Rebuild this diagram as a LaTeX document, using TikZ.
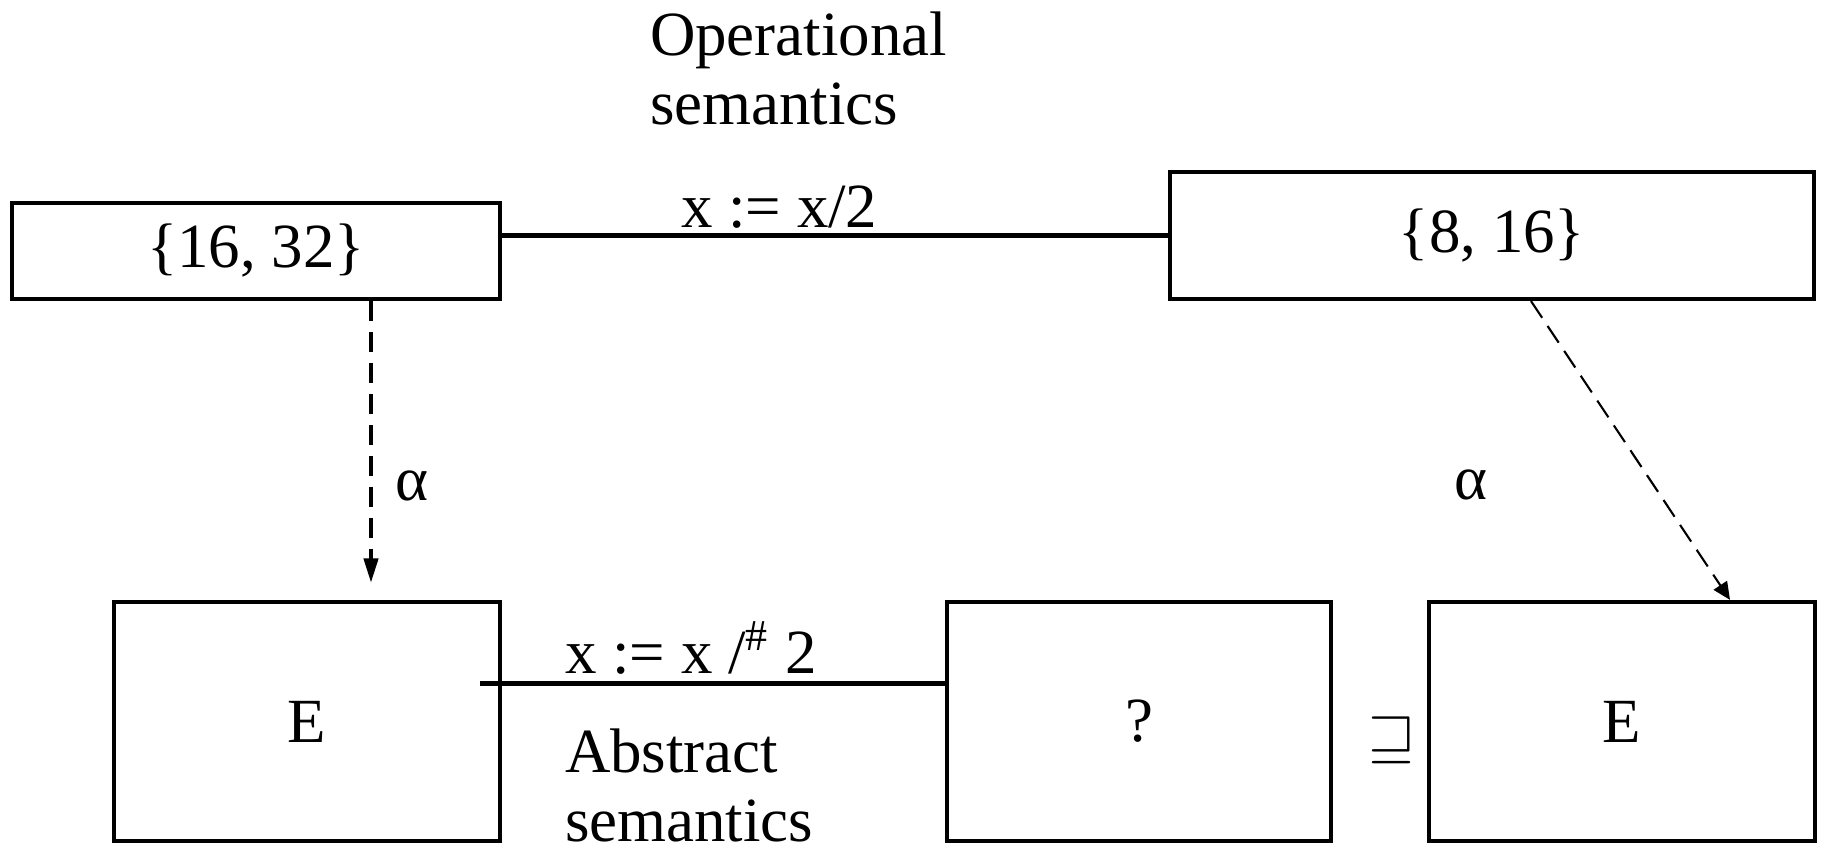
\documentclass[tikz,border=0pt]{standalone}
\usepackage{fontspec}
\setmainfont{Liberation Serif}
\usetikzlibrary{positioning}
\usetikzlibrary{arrows.meta}
\tikzset{
    box/.style = {rectangle, draw=black, line width=1.2pt, inner sep=0pt, align=center},
    lbl/.style = {inner sep=0pt, align=left},
}

\begin{document}
\begin{tikzpicture}[
	line width=1.2pt,
	font=\fontsize{17.9}{19.6}\selectfont
]
\tikzset{
    edgen/.style = {-},
    edgea/.style = {-{Triangle[length=7pt,width=4pt]}, dash pattern=on 5.7pt off 3.1pt},
    edgeb/.style = {-{Triangle[length=5pt,width=4.5pt]}, line width=0.6pt, dash pattern=on 5.7pt off 2.8pt}
}
\useasboundingbox (0,0) rectangle (18.22,-8.51);
\node[box, minimum width=4.88cm, minimum height=0.96cm] at (2.56,-2.51) (c1) {\{16, 32\}};
\node[box, minimum width=6.44cm, minimum height=1.27cm] at (14.92,-2.355) (c2) {\{8, 16\}};
\node[box, minimum width=3.86cm, minimum height=2.39cm] at (3.07,-7.215) (a1) {E};
\node[box, minimum width=3.84cm, minimum height=2.39cm] at (11.39,-7.215) (a2) {?};
\node[box, minimum width=3.86cm, minimum height=2.39cm] at (16.22,-7.215) (a3) {E};
%
\node[lbl, anchor=north west] at (6.48,-0.10) (op) {Operational\\semantics};
\node[lbl, anchor=base west] at (6.79,-2.27) (cstep) {x := x/2};
\node[lbl, anchor=base west] at (5.63,-6.73) (astep) {x := x /\textsuperscript{\#} 2};
\node[lbl, anchor=north west] at (5.63,-7.27) (ab) {Abstract\\semantics};
\node[lbl] at (4.12,-4.86) (al1) {α};
\node[lbl] at (14.71,-4.85) (al2) {α};
\node[lbl] at (13.92,-7.40) (sq) {$\sqsupseteq$};
%
\coordinate (ax) at (3.71,0);
\coordinate (bs) at ([xshift=0.39cm]c2.south);
\coordinate (bt) at ([xshift=1.08cm]a3.north);
\coordinate (le) at ([xshift=-0.22cm,yshift=0.38cm]a1.east);
%
\draw[edgen] (c2.west) -- (c2.west -| c1.east);
\draw[edgen] ([yshift=0.38cm]a2.west) -- (le);
\draw[edgea] (c1.south -| ax) -- ([yshift=0.17cm]a1.north -| ax);
\draw[edgeb] (bs) -- (bt);
\end{tikzpicture}
\end{document}
